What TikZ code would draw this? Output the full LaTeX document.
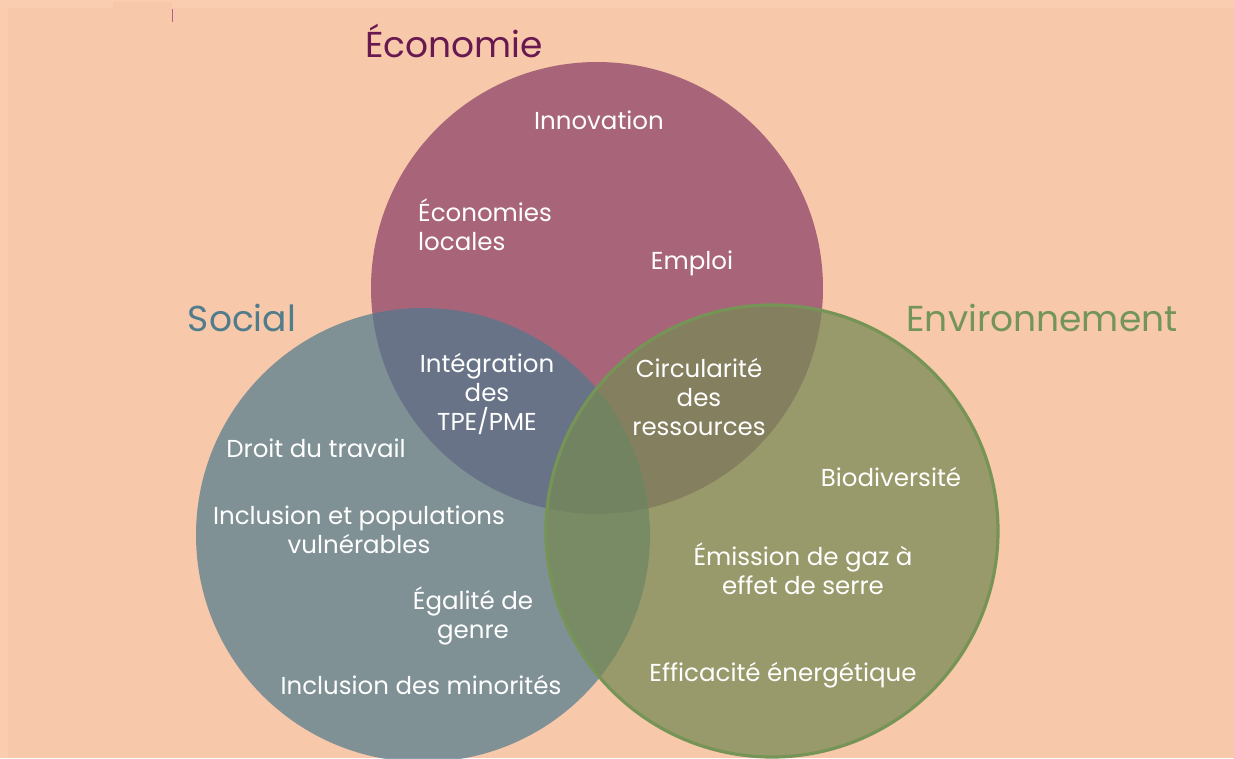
\documentclass[tikz,border=0pt]{standalone}
\usepackage{fontspec}
\setmainfont{Poppins}
\definecolor{bgmain}{RGB}{248,200,170}
\definecolor{bglight}{RGB}{250,205,177}
\definecolor{econfill}{RGB}{168,101,122}
\definecolor{socfill}{RGB}{78,122,142}
\definecolor{envfill}{RGB}{119,138,84}
\definecolor{envline}{RGB}{118,148,86}
\definecolor{econtitle}{RGB}{104,26,80}
\definecolor{soctitle}{RGB}{80,124,140}
\definecolor{envtitle}{RGB}{116,149,90}
\definecolor{pinkmark}{RGB}{190,90,140}
\tikzset{
  lbl/.style={text=white, font=\fontsize{24.5}{29}\selectfont, inner sep=0pt, align=center},
  ttl/.style={font=\fontsize{36}{40}\selectfont, inner sep=0pt},
}
\begin{document}
\begin{tikzpicture}[x=1pt,y=-1pt]
\useasboundingbox (0,0) rectangle (1234,758);
\fill[bglight] (0,0) rectangle (1234,758);
\fill[bgmain] (8,8) rectangle (1234,758);
\fill[bgmain] (113,2) rectangle (172,8);
\draw[pinkmark, line width=0.6pt] (172,9) -- (172,22);
% circles
\fill[econfill] (597,288) circle[radius=226pt];
\fill[socfill, fill opacity=0.7] (423,535) circle[radius=227pt];
\fill[envfill, fill opacity=0.73] (772,531) circle[radius=226pt];
\draw[envline, line width=3.2pt] (772,531) circle[radius=226pt];
% titles
\node[ttl, text=econtitle] (teco) at (454,41) {Économie};
\node[ttl, text=soctitle] (tsoc) at (242,318) {Social};
\node[ttl, text=envtitle] (tenv) at (1042,318) {Environnement};
% labels
\node[lbl] (innov) at (599,120) {Innovation};
\node[lbl, align=left, anchor=west] (ecoloc) at (418,225) {Économies\\locales};
\node[lbl] (emploi) at (692,263) {Emploi};
\node[lbl] (integ) at (487,394) {Intégration\\des\\TPE/PME};
\node[lbl] (circ) at (699,397) {Circularité\\des\\ressources};
\node[lbl] (droit) at (316,448) {Droit du travail};
\node[lbl] (inclpop) at (359,530) {Inclusion et populations\\vulnérables};
\node[lbl] (egal) at (473,616) {Égalité de\\genre};
\node[lbl] (inclmin) at (421,685) {Inclusion des minorités};
\node[lbl] (biodiv) at (891,477) {Biodiversité};
\node[lbl] (gaz) at (803,569) {Émission de gaz à\\effet de serre};
\node[lbl] (effic) at (783,675) {Efficacité énergétique};
\end{tikzpicture}
\end{document}
